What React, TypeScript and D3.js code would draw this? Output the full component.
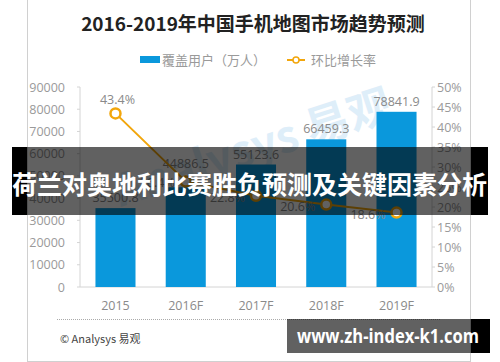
import * as d3 from "d3";

const YEARS = ["2015", "2016F", "2017F", "2018F", "2019F"];
const USERS = [35500.8, 44886.5, 55123.6, 66459.3, 78841.9];
const RATES = [43.4, 26.4, 22.8, 20.6, 18.6];
const LEFT_TICKS = [0, 10000, 20000, 30000, 40000, 50000, 60000, 70000, 80000, 90000];
const RIGHT_TICKS = [0, 5, 10, 15, 20, 25, 30, 35, 40, 45, 50];

const W = 500;
const H = 362;
const FONT = "'Open Sans', 'Noto Sans CJK SC', sans-serif";
const CJK = "'Noto Sans CJK SC', sans-serif";
const BLUE = "#0a98dc";
const ORANGE = "#f2a60c";

export default function App() {
  const left = 80;
  const right = 432;
  const top = 87;
  const bottom = 287;

  const x = d3.scaleBand<string>().domain(YEARS).range([left, right]).paddingInner(0.43).paddingOuter(0.22);
  const yL = d3.scaleLinear().domain([0, 90000]).range([bottom, top]);
  const yR = d3.scaleLinear().domain([0, 50]).range([bottom, top]);
  const cx = (d: string) => (x(d) ?? 0) + x.bandwidth() / 2;

  const line = d3
    .line<number>()
    .x((_, i) => cx(YEARS[i]))
    .y((d) => yR(d));

  return (
    <svg
      width={W}
      height={H}
      style={{ position: "absolute", left: 0, top: 0, background: "#fff" }}
      fontFamily={FONT}
    >
      {/* frame */}
      <rect x={27.5} y={-5} width={443} height={366.5} fill="#fff" stroke="#d0d0d0" />

      {/* watermark */}
      <g transform="translate(395,118) rotate(-18)" opacity={0.14}>
        <text textAnchor="end" fontSize={44} fontFamily={CJK} fontWeight="bold" fill="#1f8ad6">
          Analysys 易观
        </text>
      </g>

      {/* title */}
      <text x={253} y={31} textAnchor="middle" fontSize={19} fontWeight="bold" fontFamily={CJK} fill="#222">
        2016-2019年中国手机地图市场趋势预测
      </text>

      {/* legend */}
      <rect x={140} y={56} width={20} height={7} fill={BLUE} />
      <text x={162} y={64.5} fontSize={13} fontFamily={CJK} fill="#9a9a9a">
        覆盖用户（万人）
      </text>
      <line x1={287} x2={305} y1={60} y2={60} stroke={ORANGE} strokeWidth={2} />
      <circle cx={296} cy={60} r={3} fill="#fff" stroke={ORANGE} strokeWidth={1.5} />
      <text x={311} y={64.5} fontSize={13} fontFamily={CJK} fill="#9a9a9a">
        环比增长率
      </text>

      {/* axes */}
      <line x1={left} x2={left} y1={top} y2={bottom} stroke="#d4d4d4" />
      <line x1={right} x2={right} y1={top} y2={bottom} stroke="#d4d4d4" />
      <line x1={left} x2={right} y1={bottom} y2={bottom} stroke="#d4d4d4" />
      {LEFT_TICKS.map((t) => (
        <g key={t}>
          <line x1={left - 3} x2={left} y1={yL(t)} y2={yL(t)} stroke="#d4d4d4" />
          <text x={65} y={yL(t) + 4.5} textAnchor="end" fontSize={12.5} fill="#9a9a9a">
            {t}
          </text>
        </g>
      ))}
      {RIGHT_TICKS.map((t) => (
        <g key={t}>
          <line x1={right} x2={right + 3} y1={yR(t)} y2={yR(t)} stroke="#d4d4d4" />
          <text x={437} y={yR(t) + 4.5} fontSize={12.5} fill="#9a9a9a">
            {t}%
          </text>
        </g>
      ))}
      {YEARS.map((d) => (
        <text key={d} x={cx(d)} y={310} textAnchor="middle" fontSize={12.5} fill="#8a8a8a">
          {d}
        </text>
      ))}

      {/* bars */}
      {USERS.map((v, i) => (
        <rect key={YEARS[i]} x={x(YEARS[i])} y={yL(v)} width={x.bandwidth()} height={bottom - yL(v)} fill={BLUE} />
      ))}
      {USERS.map((v, i) => {
        const barTop = yL(v);
        const pt = yR(RATES[i]);
        const clash = pt > barTop - 25 && pt < barTop + 10;
        const ly = clash ? pt - 13 : barTop - 6;
        return (
          <text key={YEARS[i]} x={cx(YEARS[i])} y={ly} textAnchor="middle" fontSize={12.5} fill="#8a8a8a">
            {v.toFixed(1)}
          </text>
        );
      })}

      {/* growth line */}
      <path d={line(RATES) ?? ""} fill="none" stroke={ORANGE} strokeWidth={2} />
      {RATES.map((r, i) => (
        <circle key={YEARS[i]} cx={cx(YEARS[i])} cy={yR(r)} r={5} fill="#fff" stroke={ORANGE} strokeWidth={2.5} />
      ))}
      {RATES.map((r, i) =>
        i === 0 ? (
          <text key={YEARS[i]} x={cx(YEARS[i]) + 2} y={yR(r) - 9} textAnchor="middle" fontSize={12.5} fill="#8a8a8a">
            {r.toFixed(1)}%
          </text>
        ) : (
          <text key={YEARS[i]} x={cx(YEARS[i]) - 11} y={yR(r) + 6} textAnchor="end" fontSize={12.5} fill="#8a8a8a">
            {r.toFixed(1)}%
          </text>
        ),
      )}

      {/* footer */}
      <line x1={57} x2={440} y1={319.5} y2={319.5} stroke="#aaa" strokeDasharray="1 1" />
      <text x={60} y={343} fontSize={11} fontFamily={CJK} fill="#444">
        © Analysys 易观
      </text>

      {/* overlay banner */}
      <rect x={12} y={147} width={15} height={68} fill="#000" />
      <rect x={471} y={147} width={17} height={68} fill="#000" />
      <rect x={27} y={147} width={444} height={68} fill="#000" opacity={0.62} />
      <text x={249.5} y={194} textAnchor="middle" fontSize={25} fontWeight="bold" fontFamily={CJK} fill="#fff">
        荷兰对奥地利比赛胜负预测及关键因素分析
      </text>

      {/* url badge */}
      <rect x={471} y={319} width={19} height={34} fill="#000" />
      <rect x={287} y={319} width={184} height={34} fill="#000" opacity={0.62} />
      <text x={297} y={343} fontSize={19} fontWeight="bold" fill="#fff" textLength={182} lengthAdjust="spacingAndGlyphs">
        www.zh-index-k1.com
      </text>
    </svg>
  );
}
